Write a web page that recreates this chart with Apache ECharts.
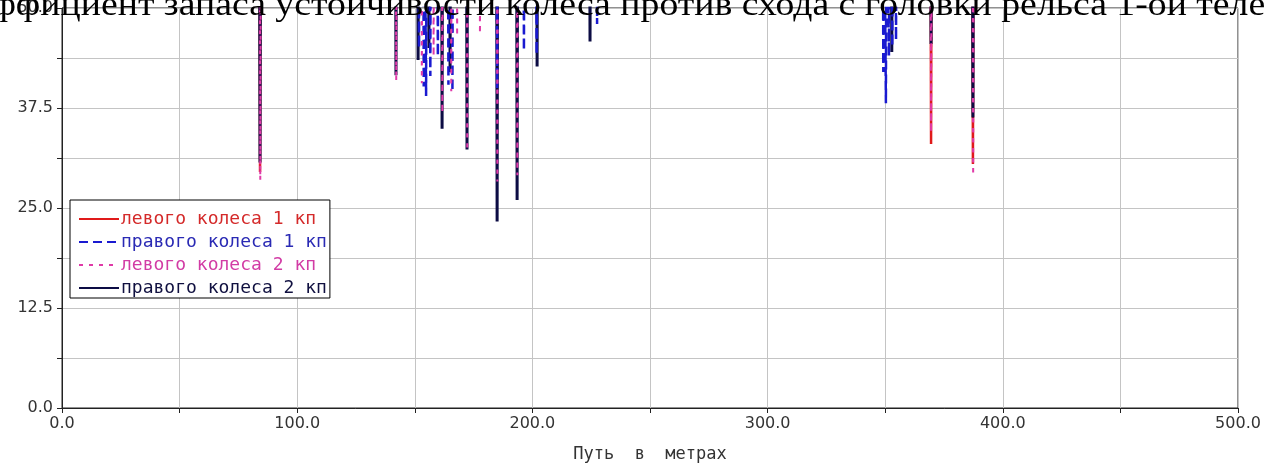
<!DOCTYPE html>
<html>
<head>
<meta charset="utf-8">
<script src="https://cdn.jsdelivr.net/npm/echarts@6/dist/echarts.min.js"></script>
<style>
html,body{margin:0;padding:0;background:#fff;}
#chart{width:1264px;height:468px;}
</style>
</head>
<body>
<div id="chart"></div>
<script>
// Chart texts
var titleText = 'Коэффициент запаса устойчивости колеса против схода с головки рельса 1-ой тележки';
var xAxisName = 'Путь  в  метрах';
var seriesNames = ['левого колеса 1 кп', 'правого колеса 1 кп', 'левого колеса 2 кп', 'правого колеса 2 кп'];

// Value above the visible range (coefficient off the top of the plot)
var offScale = 70;

// Dips: path position (m) and minimum coefficient for each series
var red1X   = [84.2, 369.5, 387.3];
var red1Min = [29.5, 33.0, 30.5];

var blue1X   = [151.8, 153.8, 154.8, 156.6, 159.8, 164.3, 166.0, 185.0, 196.4, 201.8, 227.5, 349.2, 350.3, 351.6, 353.0, 354.6];
var blue1Min = [45.0, 40.2, 39.0, 41.5, 44.0, 40.4, 39.6, 40.0, 44.7, 44.2, 48.0, 42.0, 38.1, 44.0, 45.2, 46.0];

var pink2X   = [84.3, 142.1, 153.0, 158.0, 161.7, 165.5, 168.0, 172.3, 177.7, 185.1, 193.6, 369.5, 387.4];
var pink2Min = [28.5, 40.9, 40.6, 44.0, 36.9, 39.6, 46.5, 32.2, 46.8, 28.3, 29.1, 34.5, 29.1];

var navy2X   = [84.2, 142.0, 151.4, 156.0, 161.6, 165.0, 172.2, 185.0, 193.5, 202.0, 224.5, 352.8, 369.5, 387.3];
var navy2Min = [30.7, 41.6, 43.5, 45.0, 34.9, 42.0, 32.3, 23.3, 26.0, 42.7, 45.8, 44.5, 45.5, 36.3];

function buildLine(xs, mins) {
  var pts = [[0, offScale]];
  for (var i = 0; i < xs.length; i++) {
    pts.push([xs[i] - 0.25, offScale]);
    pts.push([xs[i], mins[i]]);
    pts.push([xs[i] + 0.25, offScale]);
  }
  pts.push([500, offScale]);
  return pts;
}

var labelFont = 'DejaVu Sans';
var legendFont = 'DejaVu Sans Mono';
var chart = echarts.init(document.getElementById('chart'), null, {renderer: 'canvas'});

chart.setOption({
  animation: false,
  backgroundColor: '#ffffff',
  graphic: [{
    type: 'text',
    x: -67,
    y: -10,
    scaleX: 1.144,
    z: 100,
    silent: true,
    style: {text: titleText, font: '33px "Liberation Serif"', fill: '#000'}
  }],
  grid: {left: 62, right: 26, top: 4, bottom: 59, show: true, borderColor: '#222', borderWidth: 1, backgroundColor: 'transparent'},
  legend: {
    orient: 'vertical',
    left: 70, top: 200,
    padding: [10, 3, 1, 8],
    itemGap: 5,
    itemWidth: 40,
    itemHeight: 18,
    backgroundColor: '#fff',
    borderColor: '#000',
    borderWidth: 1,
    borderRadius: 0,
    z: 8,
    itemStyle: {opacity: 0},
    textStyle: {fontFamily: legendFont, fontSize: 18, padding: [0, 0, 0, -3]},
    data: [
      {name: seriesNames[0], textStyle: {color: '#d42a2a'}},
      {name: seriesNames[1], textStyle: {color: '#2a2ab4'}},
      {name: seriesNames[2], textStyle: {color: '#d23ca5'}},
      {name: seriesNames[3], textStyle: {color: '#101040'}}
    ]
  },
  xAxis: {
    type: 'value', min: 0, max: 500, interval: 50,
    name: xAxisName, nameLocation: 'middle', nameGap: 38,
    nameTextStyle: {fontFamily: legendFont, fontSize: 17, color: '#333'},
    axisLine: {show: true, onZero: false, lineStyle: {color: '#222', width: 1}},
    axisTick: {show: true, length: 5, lineStyle: {color: '#222'}},
    axisLabel: {
      fontFamily: labelFont, fontSize: 16, color: '#333', margin: 8,
      formatter: function (v) { return v % 100 === 0 ? v.toFixed(1) : ''; }
    },
    splitLine: {show: true, lineStyle: {color: '#c4c4c4', width: 1}}
  },
  yAxis: {
    type: 'value', min: 0, max: 50, interval: 6.25,
    axisLine: {show: true, onZero: false, lineStyle: {color: '#222', width: 1}},
    axisTick: {show: true, length: 5, lineStyle: {color: '#222'}},
    axisLabel: {
      fontFamily: labelFont, fontSize: 16, color: '#333', margin: 9,
      formatter: function (v) { return Math.abs(v / 12.5 - Math.round(v / 12.5)) < 1e-9 ? v.toFixed(1) : ''; }
    },
    splitLine: {show: true, lineStyle: {color: '#c4c4c4', width: 1}}
  },
  series: [
    {name: seriesNames[0], type: 'line', symbol: 'none', clip: true, z: 2,
     lineStyle: {color: '#e01a1a', width: 2.5, type: 'solid'}, itemStyle: {color: '#e01a1a'},
     data: buildLine(red1X, red1Min)},
    {name: seriesNames[3], type: 'line', symbol: 'none', clip: true, z: 3,
     lineStyle: {color: '#0c0c44', width: 3, type: 'solid'}, itemStyle: {color: '#0c0c44'},
     data: buildLine(navy2X, navy2Min)},
    {name: seriesNames[1], type: 'line', symbol: 'none', clip: true, z: 4,
     lineStyle: {color: '#1a1ad0', width: 2.5, type: [9, 5]}, itemStyle: {color: '#1a1ad0'},
     data: buildLine(blue1X, blue1Min)},
    {name: seriesNames[2], type: 'line', symbol: 'none', clip: true, z: 5,
     lineStyle: {color: '#e03aa8', width: 2, type: [4, 6]}, itemStyle: {color: '#e03aa8'},
     data: buildLine(pink2X, pink2Min)}
  ]
});
</script>
</body>
</html>
